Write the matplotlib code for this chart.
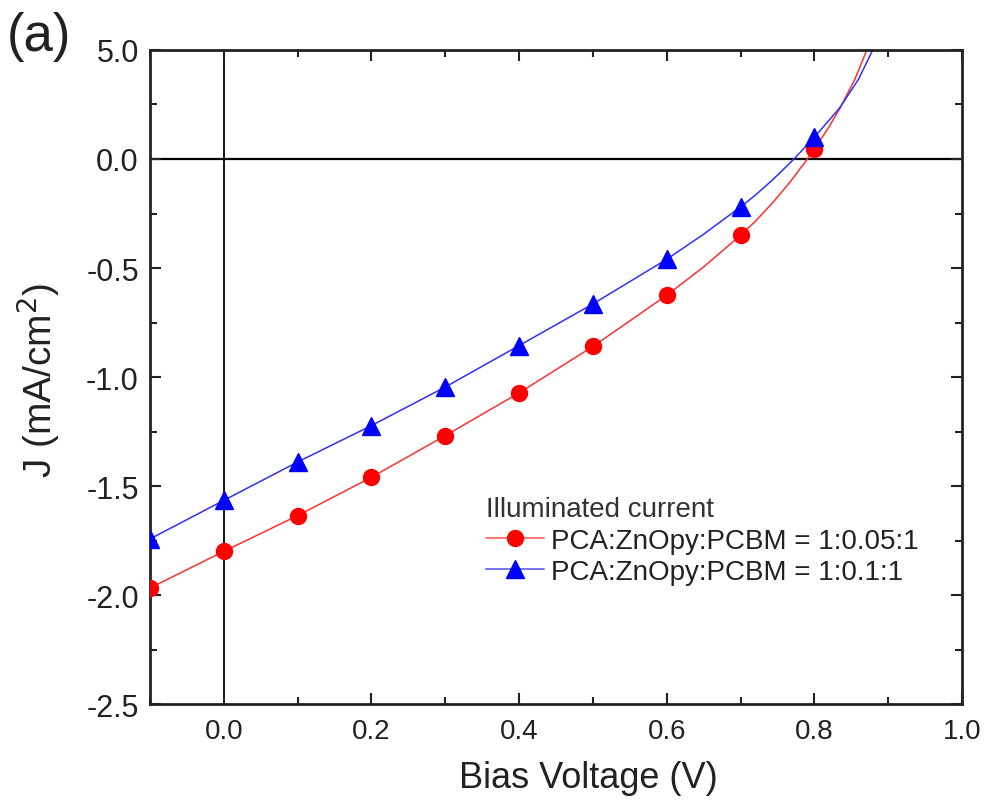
import matplotlib
matplotlib.use("Agg")
import matplotlib.pyplot as plt
from matplotlib.ticker import FixedLocator, FixedFormatter, MultipleLocator

plt.rcParams['font.family'] = ['Liberation Sans', 'DejaVu Sans']

# ---- data ----
bias_v = [-0.1, 0.0, 0.1, 0.2, 0.3, 0.4, 0.5, 0.6, 0.7, 0.8]
j_005 = [-1.968, -1.800, -1.636, -1.460, -1.269, -1.073, -0.860, -0.625, -0.350, 0.046]
j_01 = [-1.743, -1.566, -1.390, -1.223, -1.046, -0.856, -0.665, -0.460, -0.220, 0.100]

# fitted curves (extra points)
curve_v_005 = [-0.1, 0.0, 0.1, 0.2, 0.3, 0.4, 0.5, 0.6, 0.65, 0.7, 0.72, 0.744, 0.767, 0.789, 0.8, 0.817, 0.834, 0.855, 0.871]
curve_j_005 = [-1.968, -1.800, -1.636, -1.460, -1.269, -1.073, -0.860, -0.625, -0.495, -0.350, -0.286, -0.199, -0.106, -0.007, 0.046, 0.132, 0.229, 0.367, 0.500]
curve_v_01 = [-0.1, 0.0, 0.1, 0.2, 0.3, 0.4, 0.5, 0.6, 0.65, 0.7, 0.72, 0.744, 0.773, 0.8, 0.834, 0.860, 0.879]
curve_j_01 = [-1.743, -1.566, -1.390, -1.223, -1.046, -0.856, -0.665, -0.460, -0.345, -0.220, -0.166, -0.094, 0.002, 0.100, 0.233, 0.367, 0.500]

label_005 = "PCA:ZnOpy:PCBM = 1:0.05:1"
label_01 = "PCA:ZnOpy:PCBM = 1:0.1:1"
legend_title = "Illuminated current"

x_ticks = [0.0, 0.2, 0.4, 0.6, 0.8, 1.0]
x_ticklabels = ["0.0", "0.2", "0.4", "0.6", "0.8", "1.0"]
y_ticks = [-2.5, -2.0, -1.5, -1.0, -0.5, 0.0, 0.5]
y_ticklabels = ["-2.5", "-2.0", "-1.5", "-1.0", "-0.5", "0.0", "5.0"]

# ---- figure ----
fig = plt.figure(figsize=(9.86, 8.03), dpi=100)
ax = fig.add_axes([0.152, 0.122, 0.8237, 0.8145])

ax.axhline(0, color='black', lw=1.6, zorder=1)
ax.axvline(0, color='black', lw=1.3, zorder=1)

ax.plot(curve_v_005, curve_j_005, color='#ff3030', lw=1.1, zorder=2)
ax.plot(curve_v_01, curve_j_01, color='#3030ff', lw=1.1, zorder=2)
ax.plot(bias_v, j_005, ls='none', marker='o', ms=11.5, color='#ff0000', zorder=3)
ax.plot(bias_v, j_01, ls='none', marker='^', ms=12.5, color='#0000ff', zorder=3)

# legend proxies
h1, = ax.plot([], [], color='#ff5050', lw=1.1, marker='o', ms=11.5, mfc='#ff0000', mec='#ff0000')
h2, = ax.plot([], [], color='#5050ff', lw=1.1, marker='^', ms=12.5, mfc='#0000ff', mec='#0000ff')
leg = ax.legend([h1, h2], [label_005, label_01], title=legend_title,
                loc='upper left', bbox_to_anchor=(0.40, 0.335), frameon=False,
                fontsize=20, title_fontsize=20, handlelength=2.1, handletextpad=0.25,
                labelspacing=0.2, borderaxespad=0.0, alignment='left')
leg.get_title().set_color('#333333')
for t in leg.get_texts():
    t.set_color('#222222')

ax.set_xlim(-0.1, 1.0)
ax.set_ylim(-2.5, 0.5)

ax.xaxis.set_major_locator(FixedLocator(x_ticks))
ax.xaxis.set_major_formatter(FixedFormatter(x_ticklabels))
ax.xaxis.set_minor_locator(MultipleLocator(0.1))
ax.yaxis.set_major_locator(FixedLocator(y_ticks))
ax.yaxis.set_major_formatter(FixedFormatter(y_ticklabels))
ax.yaxis.set_minor_locator(MultipleLocator(0.25))

ax.tick_params(which='both', direction='in', top=True, right=True, color='#222222', width=1.5)
ax.tick_params(which='major', length=8)
ax.tick_params(which='minor', length=5)
ax.tick_params(axis='x', labelsize=20, pad=10, labelcolor='#222222')
ax.tick_params(axis='y', labelsize=22, pad=8, labelcolor='#222222')

for s in ax.spines.values():
    s.set_linewidth(2.0)
    s.set_color('#222222')

ax.set_xlabel("Bias Voltage (V)", fontsize=26, color='#222222')
ax.xaxis.set_label_coords(0.54, -0.085)
ax.set_ylabel("J (mA/cm$^2$)", fontsize=28, color='#222222')
ax.yaxis.set_label_coords(-0.108, 0.497)

fig.text(0.007, 0.985, "(a)", fontsize=38, va='top', ha='left', color='#222222')

fig.savefig("out.png", dpi=100)
